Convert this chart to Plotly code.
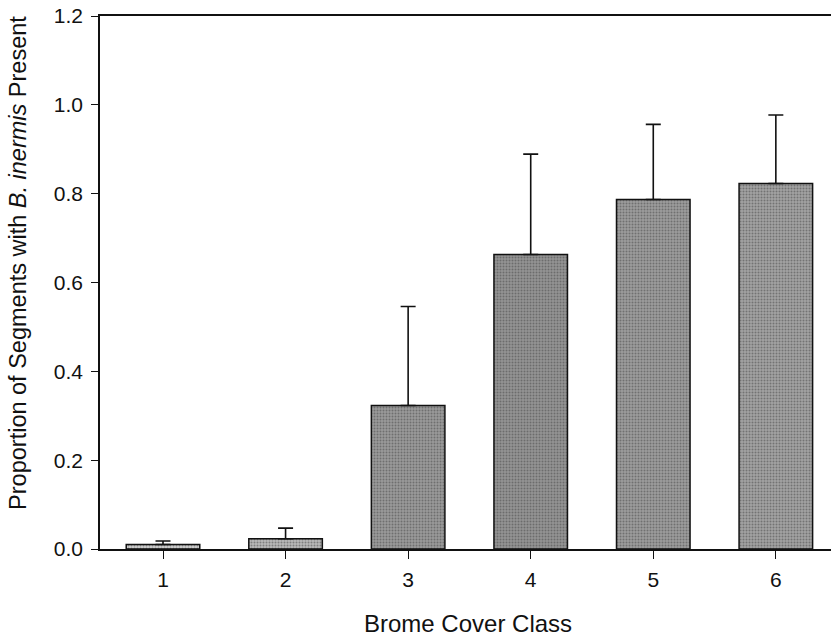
import plotly.graph_objects as go

# Brome cover classes and proportion of segments with B. inermis present
cover_class = [1, 2, 3, 4, 5, 6]
proportion = [0.010, 0.023, 0.323, 0.663, 0.787, 0.823]
upper_error = [0.008, 0.024, 0.223, 0.226, 0.169, 0.154]
y_ticks = [0.0, 0.2, 0.4, 0.6, 0.8, 1.0, 1.2]

bar_fill = ["#cfcfcf", "#b8b8b8", "#9a9a9a", "#949494", "#9c9c9c", "#a2a2a2"]

FONT = "Liberation Sans, Arial, sans-serif"

fig = go.Figure()
fig.add_trace(go.Bar(
    x=cover_class,
    y=proportion,
    width=0.6,
    marker=dict(
        color=bar_fill,
        line=dict(color="#111111", width=1.5),
        pattern=dict(shape=".", fgcolor="#5a5a5a", bgcolor="#c4c4c4",
                     size=3, solidity=0.35, fillmode="overlay"),
    ),
    error_y=dict(type="data", array=upper_error, arrayminus=[0] * len(upper_error),
                 symmetric=False, color="#111111", thickness=1.6, width=7.5),
    showlegend=False,
))

fig.update_layout(
    width=831, height=638,
    margin=dict(l=100, r=0, t=16, b=89),
    paper_bgcolor="white", plot_bgcolor="white",
    font=dict(family=FONT, color="#111111"),
    bargap=0.4,
    xaxis=dict(
        range=[0.486, 6.45],
        tickvals=cover_class,
        ticktext=[str(c) for c in cover_class],
        ticks="outside", ticklen=8, tickwidth=1.4, tickcolor="#111111",
        showline=True, linecolor="#111111", linewidth=1.6,
        mirror=True,
        showgrid=False, zeroline=False,
        tickfont=dict(size=21, family=FONT),
        ticklabelstandoff=3,
    ),
    yaxis=dict(
        range=[0, 1.2],
        tickvals=y_ticks,
        ticktext=[f"{v:.1f}" for v in y_ticks],
        ticks="outside", ticklen=7, tickwidth=1.4, tickcolor="#111111",
        showline=True, linecolor="#111111", linewidth=1.6,
        showgrid=False, zeroline=False,
        tickfont=dict(size=21, family=FONT),
        ticklabelstandoff=4,
    ),
    annotations=[
        dict(text="Proportion of Segments with <i>B. inermis</i> Present",
             xref="paper", yref="paper", x=-0.112, y=0.537,
             xanchor="center", yanchor="middle", textangle=-90,
             showarrow=False, font=dict(size=23.5, family=FONT, color="#111111")),
        dict(text="Brome Cover Class",
             xref="paper", yref="paper", x=0.504, y=-0.139,
             xanchor="center", yanchor="middle",
             showarrow=False, font=dict(size=24, family=FONT, color="#111111")),
    ],
)

fig.write_html("out.html")
